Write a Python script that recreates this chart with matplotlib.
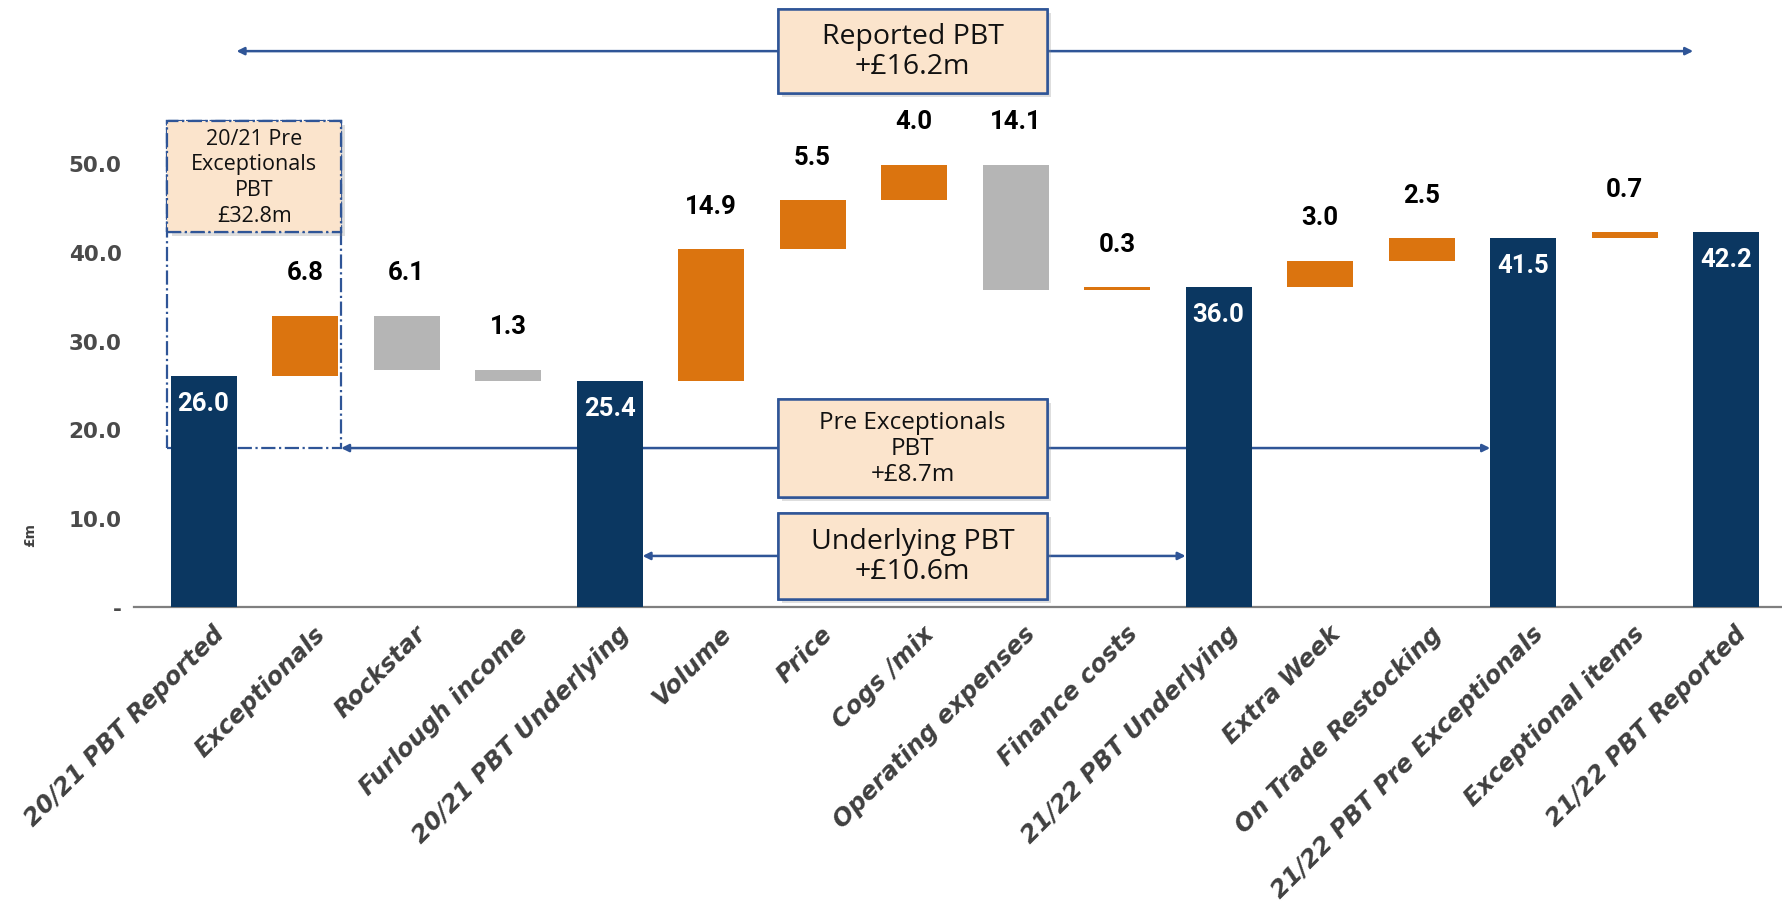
import numpy as np
import matplotlib
matplotlib.use("Agg")
import matplotlib.pyplot as plt
from matplotlib.patches import Rectangle
from matplotlib import patheffects as pe
from matplotlib.transforms import ScaledTranslation

# ---- data -------------------------------------------------------------
categories = [
    "20/21 PBT Reported", "Exceptionals", "Rockstar", "Furlough income",
    "20/21 PBT Underlying", "Volume", "Price", "Cogs /mix",
    "Operating expenses", "Finance costs", "21/22 PBT Underlying",
    "Extra Week", "On Trade Restocking", "21/22 PBT Pre Exceptionals",
    "Exceptional items", "21/22 PBT Reported",
]
kinds = ["total", "up", "down", "down", "total", "up", "up", "up",
         "down", "up", "total", "up", "up", "total", "up", "total"]
values = [26.0, 6.8, 6.1, 1.3, 25.4, 14.9, 5.5, 4.0,
          14.1, 0.3, 36.0, 3.0, 2.5, 41.5, 0.7, 42.2]
y_ticks = [0, 10, 20, 30, 40, 50]
y_tick_labels = ["-", "10.0", "20.0", "30.0", "40.0", "50.0"]

NAVY = "#0B3761"
ORANGE = "#DB740F"
GREY = "#B5B5B5"
LINE_BLUE = "#2F5597"
PEACH = "#FBE4CC"
colours = {"total": NAVY, "up": ORANGE, "down": GREY}

# ---- waterfall geometry ----------------------------------------------
bottoms, heights = [], []
running = 0.0
for kind, v in zip(kinds, values):
    if kind == "total":
        running = v
        bottoms.append(0.0)
        heights.append(v)
    elif kind == "up":
        bottoms.append(running)
        heights.append(v)
        running += v
    else:
        running -= v
        bottoms.append(running)
        heights.append(v)
bottoms = np.array(bottoms)
heights = np.array(heights)
tops = bottoms + heights

x = np.arange(len(categories))
bar_w = 0.65

fig = plt.figure(figsize=(17.83, 9.12), dpi=100)
ax = fig.add_axes([134 / 1783, 304 / 912, 1649 / 1783, 608 / 912])
ax.set_xlim(-0.685, 15.56)
ax.set_ylim(0, 68.47)

ax.bar(x, heights, bottom=bottoms, width=bar_w,
       color=[colours[k] for k in kinds], zorder=3)

# value labels
for xi, k, v, top in zip(x, kinds, values, tops):
    if k == "total":
        ax.text(xi, top - 3.0, f"{v:.1f}", ha="center", va="center",
                color="white", fontsize=18.5, fontweight="bold",
                family="Roboto", zorder=5)
    else:
        ax.text(xi, top + 4.9, f"{v:.1f}", ha="center", va="center",
                color="black", fontsize=18.5, fontweight="bold",
                family="Roboto", zorder=5)

# axes styling
for s in ("left", "top", "right"):
    ax.spines[s].set_visible(False)
ax.spines["bottom"].set_color("#7F7F7F")
ax.spines["bottom"].set_linewidth(1.6)
ax.set_yticks(y_ticks)
ax.set_yticklabels(y_tick_labels, fontsize=15.5, fontweight="bold",
                   color="#4a4a4a", family="DejaVu Sans")
ax.tick_params(axis="y", length=0, pad=9)
ax.tick_params(axis="x", length=0)
ax.set_xticks(x)
ax.set_xticklabels([])
offset = ScaledTranslation(8 / 100, -14 / 100, fig.dpi_scale_trans)
for xi, lab in zip(x, categories):
    ax.text(xi, 0, lab, rotation=45, ha="right", va="top",
            rotation_mode="anchor", fontsize=17.5, fontweight="bold",
            fontstyle="italic", color="#404040", family="DejaVu Sans",
            transform=ax.transData + offset, clip_on=False)

fig.text(30 / 1783, 1 - 535 / 912, "£m", rotation=90, ha="center",
         va="center", fontsize=10, fontweight="bold", color="#404040")

shadow = [pe.withSimplePatchShadow(offset=(3, -3), shadow_rgbFace="#8a8a8a",
                                   alpha=0.28), pe.Normal()]


def bridge(x0, x1, y):
    ax.annotate("", xy=(x1, y), xytext=(x0, y),
                arrowprops=dict(arrowstyle="<|-|>", color=LINE_BLUE, lw=1.8,
                                mutation_scale=11, shrinkA=0, shrinkB=0),
                zorder=2, annotation_clip=False)


def label_box(cx, cy, w, h, text, size):
    r = Rectangle((cx - w / 2, cy - h / 2), w, h, facecolor=PEACH,
                  edgecolor=LINE_BLUE, lw=1.8, zorder=6, clip_on=False)
    r.set_path_effects(shadow)
    ax.add_patch(r)
    ax.text(cx, cy, text, ha="center", va="center", fontsize=size,
            family="Open Sans", color="#111111", linespacing=1.12,
            zorder=7, clip_on=False)


box_cx, box_w = 6.985, 2.65
half = bar_w / 2

# reported PBT bridge
y_rep = 62.6
bridge(x[0] + half, x[15] - half, y_rep)
label_box(box_cx, y_rep, box_w, 9.5,
          f"Reported PBT\n+£{values[15] - values[0]:.1f}m", 20.5)

# 20/21 pre-exceptionals bracket
pre_2021 = values[0] + values[1]
y_pre = 17.9
bx0, bx1 = x[0] - half - 0.03, x[1] + half + 0.03
btop = 54.7
ax.add_patch(Rectangle((bx0, y_pre), bx1 - bx0, btop - y_pre, fill=False,
                       edgecolor=LINE_BLUE, lw=1.6, ls="-.", zorder=2))
pbox = Rectangle((bx0, 42.2), bx1 - bx0, btop - 42.2, facecolor=PEACH,
                 edgecolor=LINE_BLUE, lw=1.6, ls="-.", zorder=6)
pbox.set_path_effects(shadow)
ax.add_patch(pbox)
ax.text((bx0 + bx1) / 2, (42.2 + btop) / 2,
        f"20/21 Pre\nExceptionals\nPBT\n£{pre_2021:.1f}m", ha="center",
        va="center", fontsize=15.5, family="Open Sans", color="#111111",
        linespacing=1.3, zorder=7)

# pre-exceptionals bridge
bridge(bx1, x[13] - half, y_pre)
label_box(box_cx, y_pre, box_w, 11.0,
          f"Pre Exceptionals\nPBT\n+£{values[13] - pre_2021:.1f}m", 17.5)

# underlying bridge
y_und = 5.75
bridge(x[4] + half, x[10] - half, y_und)
label_box(box_cx, y_und, box_w, 9.7,
          f"Underlying PBT\n+£{values[10] - values[4]:.1f}m", 20.5)

fig.savefig("out.png", dpi=100, facecolor="white")
